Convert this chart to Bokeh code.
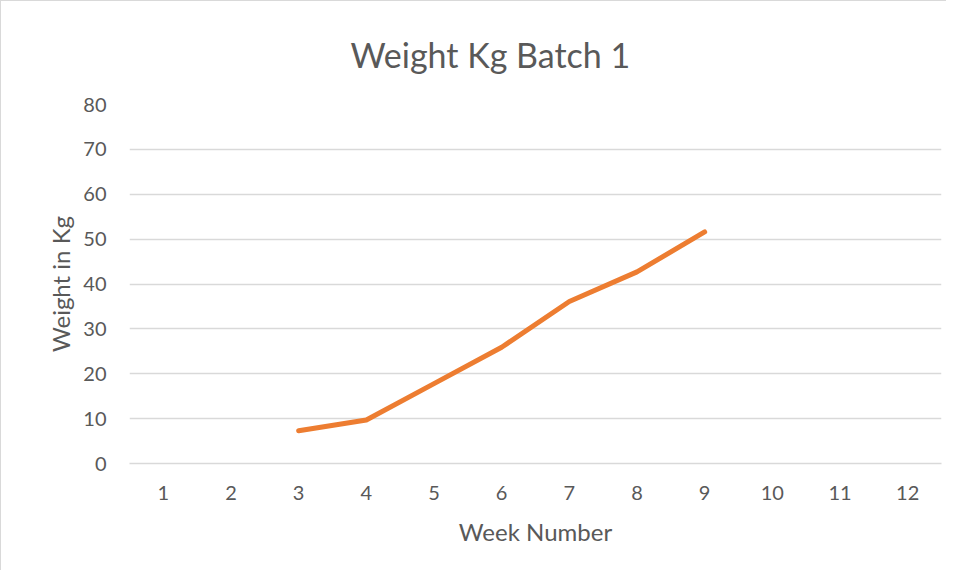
from bokeh.plotting import figure
from bokeh.models import FixedTicker, Range1d, Title
from bokeh.embed import file_html
from bokeh.resources import INLINE

# Data
weeks = [3, 4, 5, 6, 7, 8, 9]
weight_kg = [7.3, 9.7, 17.8, 25.9, 36.1, 42.7, 51.6]
x_ticks = [1, 2, 3, 4, 5, 6, 7, 8, 9, 10, 11, 12]
y_ticks = [0, 10, 20, 30, 40, 50, 60, 70, 80]
title_text = "Weight Kg Batch 1"
x_title = "Week Number"
y_title = "Weight in Kg"

FONT = "Lato"
GREY_TXT = "#595959"
GRID = "#d9d9d9"

p = figure(width=946, height=570, output_backend="svg", toolbar_location=None,
           x_range=Range1d(0.5, 12.5), y_range=Range1d(0, 80),
           min_border_left=128, min_border_right=6, min_border_top=103,
           min_border_bottom=108)
p.title = None
t = Title(text=title_text, align="left", text_font=FONT, text_font_size="34px",
          text_color=GREY_TXT, text_font_style="normal", offset=221, standoff=60)
p.add_layout(t, "above")

p.outline_line_color = None
p.background_fill_color = "white"
p.border_fill_color = "white"
p.styles = {"border-left": "1px solid #d9d9d9", "border-top": "1px solid #d9d9d9"}

p.line(weeks, weight_kg, line_color="#ED7D31", line_width=5,
       line_cap="round", line_join="round")

p.xaxis.ticker = FixedTicker(ticks=x_ticks)
p.yaxis.ticker = FixedTicker(ticks=y_ticks)
p.xgrid.grid_line_color = None
p.ygrid.grid_line_color = GRID
p.ygrid.grid_line_width = 1.3

for ax in (p.xaxis[0], p.yaxis[0]):
    ax.major_tick_line_color = None
    ax.minor_tick_line_color = None
    ax.major_label_text_font = FONT
    ax.major_label_text_font_size = "20px"
    ax.major_label_text_color = GREY_TXT
    ax.axis_label_text_font = FONT
    ax.axis_label_text_font_size = "24px"
    ax.axis_label_text_color = GREY_TXT
    ax.axis_label_text_font_style = "normal"

p.xaxis.axis_line_color = GRID
p.xaxis.axis_line_width = 1.3
p.yaxis.axis_line_color = None
p.xaxis.axis_label = x_title
p.yaxis.axis_label = y_title
p.xaxis.major_label_standoff = 16
p.yaxis.major_label_standoff = 17
p.xaxis.axis_label_standoff = 14
p.yaxis.axis_label_standoff = 5

open("out.html", "w").write(file_html(p, INLINE))
